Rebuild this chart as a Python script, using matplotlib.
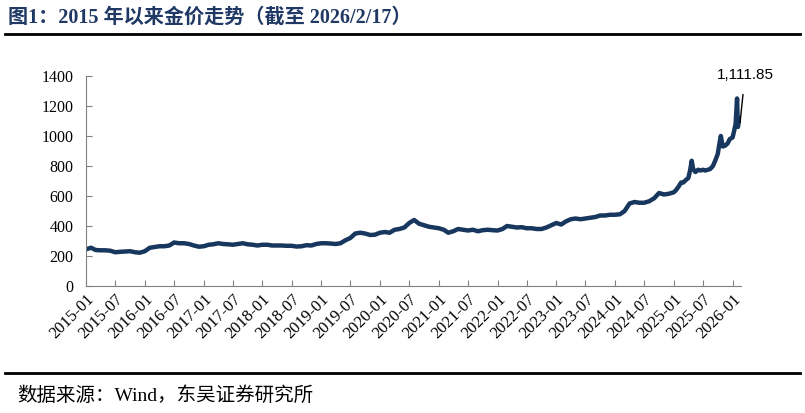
import matplotlib
matplotlib.use("Agg")
import matplotlib.pyplot as plt
import matplotlib.dates as mdates
import pandas as pd

# monthly gold price (CNY/g); 2025-2026 denser for the spikes
dates_monthly = pd.date_range("2015-01-01", "2024-12-01", freq="MS")
prices_monthly = [
    245, 255, 240, 238, 238, 235, 225, 228, 230, 232, 225, 222,   # 2015
    232, 255, 260, 265, 265, 270, 290, 285, 285, 280, 270, 262,   # 2016
    265, 275, 278, 285, 280, 278, 275, 280, 285, 278, 275, 270,   # 2017
    275, 275, 270, 270, 270, 268, 268, 263, 265, 272, 270, 280,   # 2018
    285, 285, 283, 280, 285, 305, 320, 350, 355, 350, 340, 342,   # 2019
    355, 360, 355, 375, 380, 390, 420, 440, 415, 405, 395, 390,   # 2020
    385, 375, 355, 365, 380, 375, 370, 375, 365, 372, 375, 372,   # 2021
    370, 380, 400, 395, 390, 392, 385, 385, 380, 380, 390, 405,   # 2022
    420, 410, 430, 445, 450, 445, 450, 455, 460, 470, 470, 475,   # 2023
    475, 478, 500, 550, 560, 555, 555, 565, 585, 620, 610, 615,   # 2024
]
dates_recent = pd.to_datetime([
    "2025-01-01", "2025-01-15", "2025-02-01", "2025-02-15", "2025-03-01",
    "2025-03-15", "2025-04-01", "2025-04-12", "2025-04-22", "2025-05-01",
    "2025-05-15", "2025-06-01", "2025-06-15", "2025-07-01", "2025-07-15",
    "2025-08-01", "2025-08-15", "2025-09-01", "2025-09-15", "2025-10-01",
    "2025-10-10", "2025-10-20", "2025-11-01", "2025-11-15", "2025-12-01",
    "2025-12-15", "2026-01-01", "2026-01-10", "2026-01-20", "2026-01-29",
    "2026-02-03", "2026-02-10", "2026-02-17",
])
prices_recent = [
    625, 640, 665, 690, 690, 705, 720, 770, 835, 780,
    760, 775, 770, 775, 770, 775, 780, 800, 835, 880,
    940, 1000, 930, 935, 950, 980, 990, 1030, 1080, 1250,
    1060, 1100, 1111.85,
]

dates = list(dates_monthly) + list(dates_recent)
prices = prices_monthly + prices_recent
last_date, last_price = dates[-1], prices[-1]

serif_cjk = ["Liberation Serif", "Noto Sans CJK SC"]

fig = plt.figure(figsize=(8.05, 4.13), dpi=100)
ax = fig.add_axes([0.107, 0.3075, 0.813, 0.5085])

ax.plot(dates, prices, color="#17375E", lw=3.2, solid_joinstyle="round")

ax.set_ylim(0, 1400)
ax.set_yticks(range(0, 1401, 200))
ax.set_xlim(pd.Timestamp("2015-01-01"), pd.Timestamp("2026-02-20"))
ax.set_xticks(pd.date_range("2015-01-01", "2026-01-01", freq="6MS"))
ax.xaxis.set_major_formatter(mdates.DateFormatter("%Y-%m"))

for s in ("top", "right"):
    ax.spines[s].set_visible(False)
for s in ("left", "bottom"):
    ax.spines[s].set_color("#808080")
ax.tick_params(axis="both", direction="in", length=4, color="#808080")
ax.tick_params(axis="x", labelsize=12, pad=4)
ax.tick_params(axis="y", labelsize=11.5, pad=9)
for lab in ax.get_xticklabels():
    lab.set_rotation(45)
    lab.set_ha("right")
    lab.set_rotation_mode("anchor")
    lab.set_family("Liberation Serif")
for lab in ax.get_yticklabels():
    lab.set_family("Liberation Serif")

ax.annotate(f"{last_price:,.2f}", xy=(last_date, last_price - 20),
            xytext=(745 / 805, 1 - 75 / 413), textcoords="figure fraction",
            ha="center", va="center", fontsize=11, family="Liberation Sans",
            arrowprops=dict(arrowstyle="-", color="black", lw=1,
                            shrinkA=7, shrinkB=0))

fig.text(0.01, 1 - 18 / 413, "图1：2015 年以来金价走势（截至 2026/2/17）",
         family=serif_cjk, fontsize=14.5, fontweight="bold", color="#1F3864",
         va="center", ha="left")
fig.add_artist(plt.Line2D([0.006, 0.994], [1 - 34 / 413] * 2, color="black",
                          lw=2, transform=fig.transFigure))
fig.add_artist(plt.Line2D([0.006, 0.994], [1 - 373 / 413] * 2, color="black",
                          lw=2, transform=fig.transFigure))
fig.text(0.021, 1 - 396 / 413, "数据来源：Wind，东吴证券研究所",
         family=serif_cjk, fontsize=14, color="black", va="center", ha="left")

fig.savefig("out.png", dpi=100)
